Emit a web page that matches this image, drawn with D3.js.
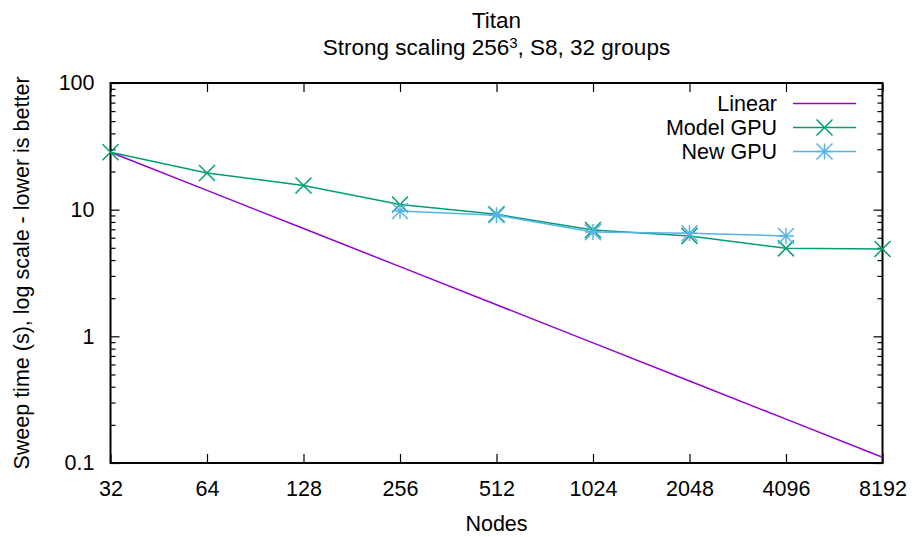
<!DOCTYPE html>
<html>
<head>
<meta charset="utf-8">
<script src="https://cdn.jsdelivr.net/npm/d3@7"></script>
<style>
  body { margin: 0; background: white; }
  text { font-family: "Liberation Sans", Arial, Helvetica, sans-serif; fill: black; }
</style>
</head>
<body>
<svg id="chart"></svg>
<script>
"use strict";

// data
var nodes = [32, 64, 128, 256, 512, 1024, 2048, 4096, 8192];
var modelGpu = [28.4, 19.5, 15.5, 11.0, 9.2, 6.9, 6.2, 4.95, 4.9];
var newGpuNodes = [256, 512, 1024, 2048, 4096];
var newGpu = [9.75, 9.05, 6.65, 6.5, 6.2];
var linearStart = 28.4;
var yTicks = [0.1, 1, 10, 100];

var settings = {
    width: 917,
    height: 537,
    margin: { left: 110.5, right: 34.5, top: 83, bottom: 74 },
    font: 21.5,
    titleFont: 22.5,
    colors: { linear: '#9400d3', model: '#009e73', gpu: '#56b4e9' }
};

var linear = nodes.map(n => linearStart * nodes[0] / n);

var series = [
    { name: 'Linear', color: settings.colors.linear, xs: nodes, ys: linear, marker: null },
    { name: 'Model GPU', color: settings.colors.model, xs: nodes, ys: modelGpu, marker: 'cross' },
    { name: 'New GPU', color: settings.colors.gpu, xs: newGpuNodes, ys: newGpu, marker: 'star' }
];

var svg = d3.select('#chart')
    .attr('width', settings.width)
    .attr('height', settings.height);

var m = settings.margin;
var x = d3.scaleLog().base(2)
    .domain([32, 8192])
    .range([m.left, settings.width - m.right]);
var y = d3.scaleLog()
    .domain([0.1, 100])
    .range([settings.height - m.bottom, m.top]);

var minor = [];
[0.1, 1, 10].forEach(d => {
    for (var k = 2; k <= 9; k++) minor.push(d * k);
});

// axes, mirrored on all four sides with ticks inside
var axes = svg.append('g').attr('class', 'axes');

axes.append('g')
    .attr('transform', `translate(0,${y.range()[0]})`)
    .call(d3.axisBottom(x).tickValues(nodes).tickSizeInner(-9).tickSizeOuter(0).tickPadding(18).tickFormat(d3.format('d')));
axes.append('g')
    .attr('transform', `translate(0,${y.range()[1]})`)
    .call(d3.axisTop(x).tickValues(nodes).tickSizeInner(-9).tickSizeOuter(0).tickFormat(''));
axes.append('g')
    .attr('transform', `translate(${x.range()[0]},0)`)
    .call(d3.axisLeft(y).tickValues(yTicks).tickSizeInner(-9).tickSizeOuter(0).tickPadding(16).tickFormat(d => d3.format('~g')(d)));
axes.append('g')
    .attr('transform', `translate(${x.range()[1]},0)`)
    .call(d3.axisRight(y).tickValues(yTicks).tickSizeInner(-9).tickSizeOuter(0).tickFormat(''));
axes.append('g')
    .attr('transform', `translate(${x.range()[0]},0)`)
    .call(d3.axisLeft(y).tickValues(minor).tickSizeInner(-5).tickSizeOuter(0).tickFormat(''));
axes.append('g')
    .attr('transform', `translate(${x.range()[1]},0)`)
    .call(d3.axisRight(y).tickValues(minor).tickSizeInner(-5).tickSizeOuter(0).tickFormat(''));

axes.selectAll('.domain').remove();
axes.selectAll('line').attr('stroke', 'black').attr('stroke-width', 1.2);
axes.selectAll('text')
    .style('font-size', settings.font + 'px')
    .attr('fill', 'black');

axes.append('rect')
    .attr('x', x.range()[0])
    .attr('y', y.range()[1])
    .attr('width', x.range()[1] - x.range()[0])
    .attr('height', y.range()[0] - y.range()[1])
    .attr('fill', 'none')
    .attr('stroke', 'black')
    .attr('stroke-width', 2);

// markers
function markerPath(type, s) {
    var p = `M${-s},${-s}L${s},${s}M${-s},${s}L${s},${-s}`;
    if (type === 'star') p += `M0,${-s}L0,${s}M${-s},0L${s},0`;
    return p;
}

var line = d3.line();
var plot = svg.append('g').attr('class', 'series');

series.forEach(s => {
    var pts = s.xs.map((d, i) => [x(d), y(s.ys[i])]);
    plot.append('path')
        .attr('d', line(pts))
        .attr('fill', 'none')
        .attr('stroke', s.color)
        .attr('stroke-width', 1.5);
    if (s.marker) {
        plot.append('g')
            .selectAll('path')
            .data(pts)
            .enter()
            .append('path')
            .attr('transform', d => `translate(${d[0]},${d[1]})`)
            .attr('d', markerPath(s.marker, 8))
            .attr('fill', 'none')
            .attr('stroke', s.color)
            .attr('stroke-width', 1.5);
    }
});

// legend
var legend = svg.append('g').attr('class', 'legend');
var rows = legend.selectAll('g')
    .data(series)
    .enter()
    .append('g')
    .attr('transform', (d, i) => `translate(0,${103.5 + i * 24})`);
rows.append('text')
    .attr('x', 777)
    .attr('dy', '0.35em')
    .attr('text-anchor', 'end')
    .style('font-size', settings.font + 'px')
    .text(d => d.name);
rows.append('line')
    .attr('x1', 793).attr('x2', 856)
    .attr('stroke', d => d.color)
    .attr('stroke-width', 1.5);
rows.filter(d => d.marker)
    .append('path')
    .attr('transform', 'translate(824.5,0)')
    .attr('d', d => markerPath(d.marker, 8))
    .attr('fill', 'none')
    .attr('stroke', d => d.color)
    .attr('stroke-width', 1.5);

// titles
var cx = (x.range()[0] + x.range()[1]) / 2;
svg.append('text')
    .attr('x', cx).attr('y', 28)
    .attr('text-anchor', 'middle')
    .style('font-size', settings.titleFont + 'px')
    .text('Titan');
var sub = svg.append('text')
    .attr('x', cx).attr('y', 55)
    .attr('text-anchor', 'middle')
    .style('font-size', settings.titleFont + 'px');
sub.append('tspan').text('Strong scaling 256');
sub.append('tspan').attr('dy', -7).style('font-size', '15px').text('3');
sub.append('tspan').attr('dy', 7).text(', S8, 32 groups');

svg.append('text')
    .attr('x', cx).attr('y', 531)
    .attr('text-anchor', 'middle')
    .style('font-size', settings.font + 'px')
    .text('Nodes');

svg.append('text')
    .attr('transform', `translate(29,${(y.range()[0] + y.range()[1]) / 2}) rotate(-90)`)
    .attr('text-anchor', 'middle')
    .style('font-size', settings.font + 'px')
    .text('Sweep time (s), log scale - lower is better');
</script>
</body>
</html>
